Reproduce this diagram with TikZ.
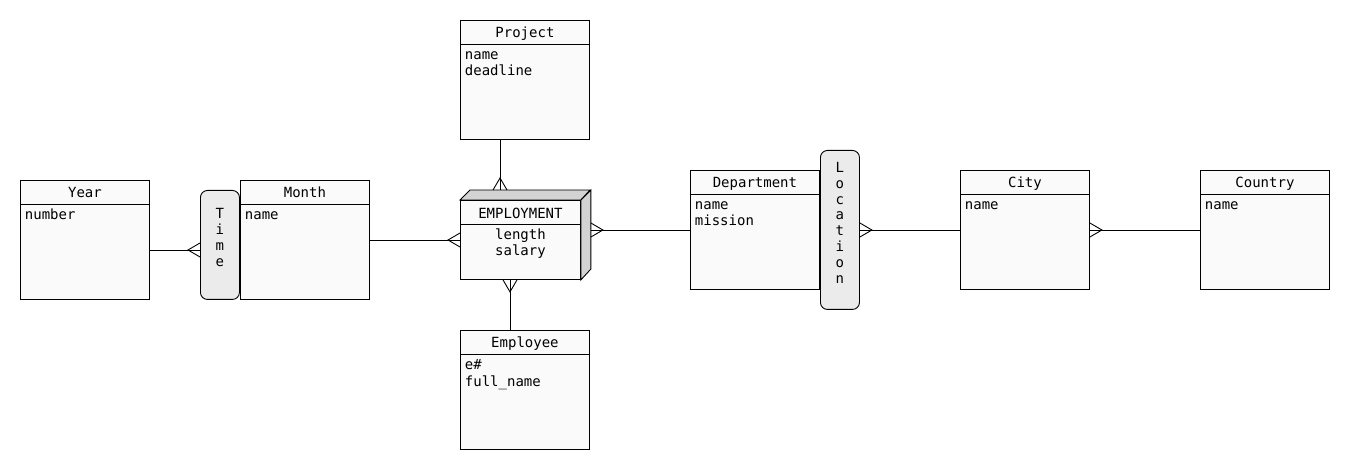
\documentclass[tikz,border=0pt]{standalone}
\usepackage{fontspec}
\setmainfont{DejaVu Sans Mono}
\usetikzlibrary{calc}
\definecolor{entfill}{HTML}{FAFAFA}
\definecolor{relfill}{HTML}{EBEBEB}
\definecolor{sidefill}{HTML}{D3D3D3}
\newcommand\erentity[5]{%
  \node[entity] (#1) at (#2,#3) {};
  \node[txt, anchor=base] (#1-title) at ($(#1.north)+(0,18)$) {#4};
  \draw (#1.north west) ++(0,24) -- ++(129,0);
  \foreach \a [count=\i] in {#5} {\node[txt, anchor=base west] (#1-attr\i) at ($(#1.north west)+(4.5,24+16*\i)$) {\a};}
}
\begin{document}
\begin{tikzpicture}[x=1pt,y=-1pt, line width=0.9pt,
  entity/.style={draw, fill=entfill, minimum width=129pt, minimum height=119pt, inner sep=0pt, anchor=north west},
  relbox/.style={draw, fill=relfill, rounded corners=7pt, inner sep=0pt, anchor=north west, minimum width=39pt},
  txt/.style={font=\fontsize{14}{16}\selectfont, inner sep=0pt},
  crow/.pic={\draw (0,-7) -- (-12,0) -- (0,7);}
]
\useasboundingbox (0,0) rectangle (1350,470);

% entities
\erentity{year}{20}{180}{Year}{number}
\erentity{month}{240}{180}{Month}{name}
\erentity{project}{460}{20}{Project}{name,deadline}
\erentity{employee}{460}{330}{Employee}{e\#,full\_name}
\erentity{dept}{690}{170}{Department}{name,mission}
\erentity{city}{960}{170}{City}{name}
\erentity{country}{1200}{170}{Country}{name}

% relation boxes
\node[relbox, minimum height=109pt] (time) at (200,190) {};
\foreach \c [count=\i from 0] in {T,i,m,e}
  {\node[txt, anchor=base] (time-l\i) at ($(time.north)+(0,28.5+16*\i)$) {\c};}
\node[relbox, minimum height=159pt] (loc) at (820,150) {};
\foreach \c [count=\i from 0] in {L,o,c,a,t,i,o,n}
  {\node[txt, anchor=base] (loc-l\i) at ($(loc.north)+(0,22.5+15.8*\i)$) {\c};}

% EMPLOYMENT (3D box)
\node[draw, fill=entfill, minimum width=120pt, minimum height=79pt, inner sep=0pt, anchor=north west] (emp) at (460,200) {};
\filldraw[fill=sidefill] (emp.north west) -- ++(10,-10) -- ++(120,0) -- (emp.north east) -- cycle;
\filldraw[fill=sidefill] (emp.north east) -- ++(10,-10) -- ++(0,79) -- (emp.south east) -- cycle;
\draw (emp.north west) ++(0,24) -- ++(120,0);
\node[txt, anchor=base] (emp-title) at ($(emp.north)+(0,18.5)$) {EMPLOYMENT};
\node[txt, anchor=base] (emp-attr1) at ($(emp.north)+(0,40)$) {length};
\node[txt, anchor=base] (emp-attr2) at ($(emp.north)+(0,56)$) {salary};

% connectors
\draw ([yshift=-70pt]year.north east) -- ([yshift=-60pt]time.north west);
\pic at ([yshift=-60pt]time.north west) {crow};

\draw ([yshift=-60pt]month.north east) -- ([yshift=-40pt]emp.north west);
\pic at ([yshift=-40pt]emp.north west) {crow};

\draw ([xshift=40pt]project.south west) -- ([xshift=40pt,yshift=10pt]emp.north west);
\pic[rotate=-90] at ([xshift=40pt,yshift=10pt]emp.north west) {crow};

\draw ([xshift=50pt]emp.south west) -- ([xshift=50pt]employee.north west);
\pic[rotate=90] at ([xshift=50pt]emp.south west) {crow};

\draw ([xshift=10pt,yshift=-30pt]emp.north east) -- ([yshift=-60pt]dept.north west);
\pic[rotate=180] at ([xshift=10pt,yshift=-30pt]emp.north east) {crow};

\draw ([yshift=-80pt]loc.north east) -- ([yshift=-60pt]city.north west);
\pic[rotate=180] at ([yshift=-80pt]loc.north east) {crow};

\draw ([yshift=-60pt]city.north east) -- ([yshift=-60pt]country.north west);
\pic[rotate=180] at ([yshift=-60pt]city.north east) {crow};
\end{tikzpicture}
\end{document}
